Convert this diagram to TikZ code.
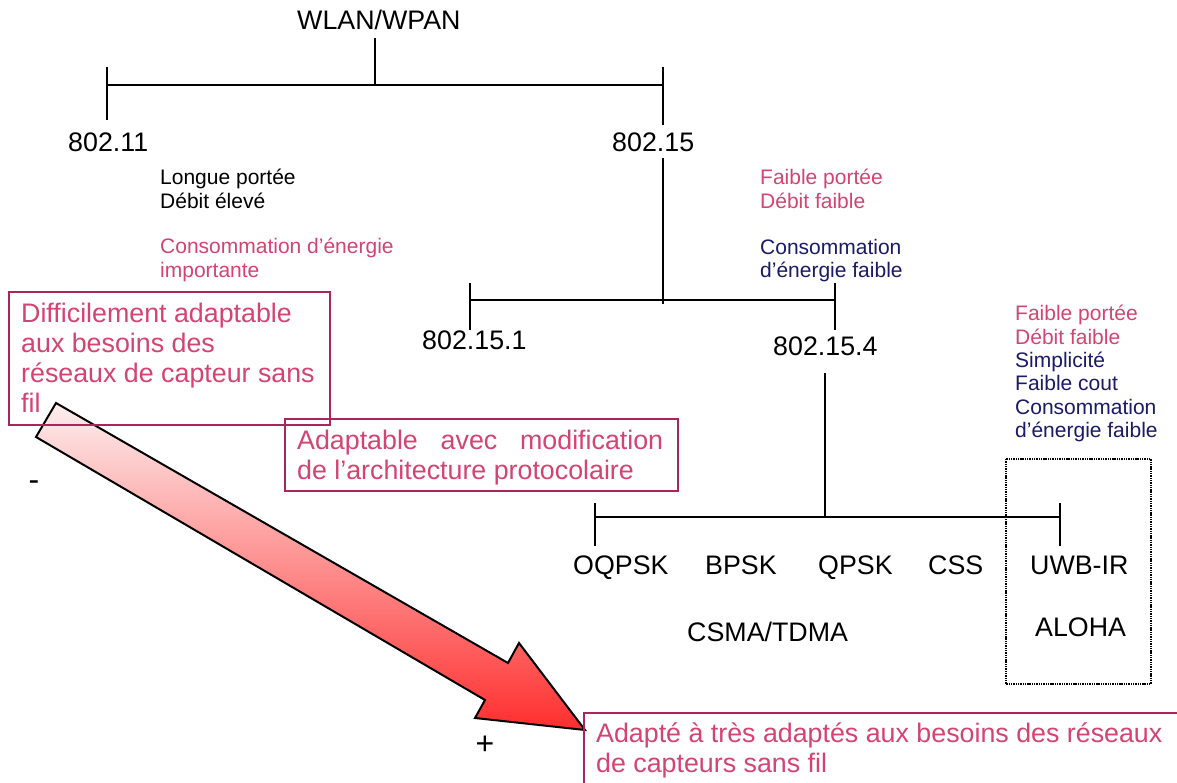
\documentclass[tikz,border=0pt]{standalone}
\usepackage{fontspec}
\setmainfont{Liberation Sans}
\definecolor{rose}{RGB}{212,68,114}
\definecolor{roseframe}{RGB}{168,38,92}
\definecolor{navy}{RGB}{26,26,104}
\definecolor{arrowlight}{RGB}{253,238,238}
\definecolor{arrowred}{RGB}{255,46,46}
\begin{document}
\begin{tikzpicture}[x=1pt,y=-1pt,
  tree/.style={line width=2.2pt, black},
  big/.style={inner sep=0pt, anchor=base west, font=\fontsize{26.8}{30}\selectfont},
  small/.style={inner sep=0pt, anchor=north west, align=left, font=\fontsize{21}{23.4}\selectfont},
  boxtext/.style={inner sep=0pt, anchor=north west, align=left, text=rose, font=\fontsize{26.8}{30}\selectfont},
  sign/.style={inner sep=0pt, font=\fontsize{32}{34}\selectfont},
  frame/.style={draw=roseframe, line width=2pt},
  dotbox/.style={draw=black, line width=1.8pt, dash pattern=on 1.4pt off 0.9pt}
]
\useasboundingbox (0,0) rectangle (1177,783);
\clip (0,0) rectangle (1177,783);
\fill[white] (0,0) rectangle (1177,783);

% ---- tree: WLAN/WPAN -> 802.11 / 802.15
\node[big] (wlan) at (297,30) {WLAN/WPAN};
\node[big] (n11) at (68,152) {802.11};
\node[big] (n15) at (612,152) {802.15};
\coordinate (j0) at (375,38);
\coordinate (j1) at (375,85);
\coordinate (l1) at (107,67);  \coordinate (l2) at (107,120); \coordinate (lb) at (107,85);
\coordinate (r1) at (663,67);  \coordinate (r2) at (663,125); \coordinate (rb) at (663,85);
\draw[tree] (j0) -- (j1);
\draw[tree] (lb) -- (rb);
\draw[tree] (l1) -- (l2);
\draw[tree] (r1) -- (r2);

% ---- 802.15 -> 802.15.1 / 802.15.4
\node[big] (n151) at (422,349) {802.15.1};
\node[big] (n154) at (773,355) {802.15.4};
\coordinate (m0) at (663,158);
\coordinate (m1) at (663,304);
\coordinate (p1) at (470,283); \coordinate (p2) at (470,330); \coordinate (pb) at (470,300);
\coordinate (q1) at (835,283); \coordinate (q2) at (835,330); \coordinate (qb) at (835,300);
\draw[tree] (m0) -- (m1);
\draw[tree] (pb) -- (qb);
\draw[tree] (p1) -- (p2);
\draw[tree] (q1) -- (q2);

% ---- 802.15.4 -> physical layers
\coordinate (b0) at (825,373);
\coordinate (b1) at (825,517);
\coordinate (s1) at (595,503); \coordinate (s2) at (595,546); \coordinate (sb) at (595,517);
\coordinate (u1) at (1060,503); \coordinate (u2) at (1060,546); \coordinate (ub) at (1060,517);
\draw[tree] (b0) -- (b1);
\draw[tree] (sb) -- (ub);
\draw[tree] (s1) -- (s2);
\draw[tree] (u1) -- (u2);

\node[big] (oqpsk) at (573,574) {OQPSK};
\node[big] (bpsk)  at (705,574) {BPSK};
\node[big] (qpsk)  at (818,574) {QPSK};
\node[big] (css)   at (928,574) {CSS};
\node[big] (uwb)   at (1030,574) {UWB-IR};
\node[big] (csma)  at (687,641) {CSMA/TDMA};
\node[big] (aloha) at (1035,636) {ALOHA};
\draw[dotbox] (1006,459) rectangle (1151,684);

% ---- characteristics
\node[small] (c11a) at (160,169) {Longue portée\\Débit élevé};
\node[small, text=rose] (c11b) at (160,238) {Consommation d’énergie\\importante};
\node[small, text=rose] (c15a) at (760,169) {Faible portée\\Débit faible};
\node[small, text=navy] (c15b) at (760,239) {Consommation\\d’énergie faible};
\node[small] (c154) at (1015,305) {\textcolor{rose}{Faible portée}\\\textcolor{rose}{Débit faible}\\\textcolor{navy}{Simplicité}\\\textcolor{navy}{Faible cout}\\\textcolor{navy}{Consommation}\\\textcolor{navy}{d’énergie faible}};

% ---- gradient arrow
\shade[draw=black, line width=2pt, line join=miter, top color=arrowlight, bottom color=arrowred]
  (56,403) -- (508,663) -- (519,643) -- (585,730) -- (475,718) -- (485,700) -- (36,437) -- cycle;

% ---- framed comments
\draw[frame] (9,292) rectangle (330,425);
\node[boxtext] (f1) at (21,303) {Difficilement adaptable\\aux besoins des\\réseaux de capteur sans\\fil};
\draw[frame] (285,419) rectangle (678,491);
\node[boxtext] (f2) at (297,430) {\makebox[366pt][s]{Adaptable\hfill avec\hfill modification}\\de l’architecture protocolaire};
\draw[frame] (584,713) rectangle (1195,795);
\node[boxtext] (f3) at (596,723) {Adapté à très adaptés aux besoins des réseaux\\de capteurs sans fil};

\node[sign] (minus) at (34,486) {-};
\node[sign] (plus) at (485,745) {+};
\end{tikzpicture}
\end{document}
